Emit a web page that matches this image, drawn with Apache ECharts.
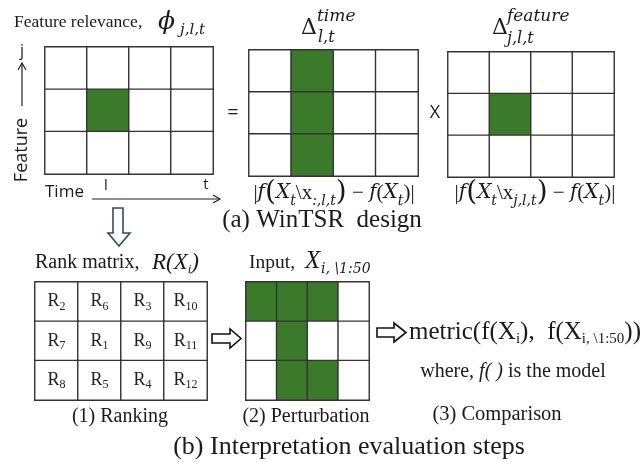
<!DOCTYPE html>
<html><head><meta charset="utf-8">
<script src="https://cdn.jsdelivr.net/npm/echarts@6/dist/echarts.min.js"></script>
<style>html,body{margin:0;padding:0;background:#fff}#c{width:642px;height:462px}</style>
</head><body><div id="c"></div>
<script>
// ---- data ----
const colCats = ['c1', 'c2', 'c3', 'c4'];
const rowCats = ['r1', 'r2', 'r3'];
const phiMatrix = [[0,0,0,0],[0,1,0,0],[0,0,0,0]];
const deltaTimeMatrix = [[0,1,0,0],[0,1,0,0],[0,1,0,0]];
const deltaFeatureMatrix = [[0,0,0,0],[0,1,0,0],[0,0,0,0]];
const rankMatrix = [[2,6,3,10],[7,1,9,11],[8,5,4,12]];
const perturbMatrix = [[1,1,1,0],[0,1,0,0],[0,1,1,0]];

const GREEN = '#3B7A2B';
const LINE = '#333';
const SERIF = '"Liberation Serif", "Times New Roman", serif';
const MATH = '"DejaVu Serif", "Liberation Serif", serif';
const SANS = '"Open Sans", "Noto Sans", sans-serif';

function cells(m) {
  const out = [];
  m.forEach((row, r) => row.forEach((v, c) => out.push([c, r, v])));
  return out;
}

const grids = [
  {left: 45, top: 47, width: 168, height: 127},
  {left: 249, top: 50, width: 169, height: 126},
  {left: 448, top: 52, width: 166, height: 125},
  {left: 35, top: 282, width: 172, height: 118},
  {left: 246, top: 282, width: 123, height: 118}
];
const matrices = [phiMatrix, deltaTimeMatrix, deltaFeatureMatrix, rankMatrix, perturbMatrix];

const xAxes = grids.map((g, i) => ({type: 'category', gridIndex: i, data: colCats, show: false}));
const yAxes = grids.map((g, i) => ({type: 'category', gridIndex: i, data: rowCats, inverse: true, show: false}));

const series = matrices.map((m, i) => {
  const s = {
    type: 'heatmap', xAxisIndex: i, yAxisIndex: i, data: cells(m), silent: true,
    itemStyle: {borderColor: LINE, borderWidth: 1.4},
    emphasis: {disabled: true}
  };
  if (i === 3) {
    s.itemStyle.color = '#fff';
    s.label = {
      show: true,
      formatter: p => '{r|R}{s|' + p.value[2] + '}',
      rich: {
        r: {fontFamily: SERIF, fontSize: 18, color: '#222', lineHeight: 22},
        s: {fontFamily: SERIF, fontSize: 12, color: '#222', lineHeight: 13, verticalAlign: 'bottom'}
      }
    };
  }
  return s;
});

function T(x, y, text, font, extra) {
  return Object.assign({type: 'text', x: x, y: y, silent: true,
    style: Object.assign({text: text, font: font, fill: '#1a1a1a', textAlign: 'left', textVerticalAlign: 'middle'}, (extra && extra.style) || {})},
    extra && extra.el || {});
}
function R(x, y, text, rich, align) {
  return {type: 'text', x: x, y: y, silent: true,
    style: {text: text, rich: rich, fill: '#1a1a1a', textAlign: align || 'left', textVerticalAlign: 'middle'}};
}

const fRich = {
  n: {fontFamily: SERIF, fontSize: 21, lineHeight: 30, color: '#1a1a1a'},
  i: {fontFamily: MATH, fontStyle: 'italic', fontSize: 20, lineHeight: 30, color: '#1a1a1a'},
  p: {fontFamily: MATH, fontSize: 28, lineHeight: 30, color: '#1a1a1a'},
  s: {fontFamily: MATH, fontStyle: 'italic', fontSize: 14, lineHeight: 17, verticalAlign: 'bottom', color: '#1a1a1a'}
};

const graphics = [
  // top-left title
  T(14, 22, 'Feature relevance,', '17.5px ' + SERIF),
  T(158, 22, 'ϕ', 'italic 25px ' + MATH),
  T(180, 30, 'j,l,t', 'italic 15px ' + MATH),
  // feature axis
  T(22, 51, 'j', '16px ' + SANS, {style: {textAlign: 'center'}}),
  {type: 'polyline', silent: true, shape: {points: [[22, 106], [22, 63]]}, style: {stroke: '#222', lineWidth: 1.2, fill: null}},
  {type: 'polyline', silent: true, shape: {points: [[18, 70], [22, 63], [26, 70]]}, style: {stroke: '#222', lineWidth: 1.2, fill: null}},
  T(22, 150, 'Feature', '18px ' + SANS, {style: {textAlign: 'center'}, el: {rotation: Math.PI / 2}}),
  // time axis
  T(45, 192, 'Time', '17px ' + SANS),
  T(106, 186, 'l', '15px ' + SANS, {style: {textAlign: 'center'}}),
  T(206, 185, 't', '15px ' + SANS, {style: {textAlign: 'center'}}),
  {type: 'polyline', silent: true, shape: {points: [[92, 199], [220, 199]]}, style: {stroke: '#222', lineWidth: 1.2, fill: null}},
  {type: 'polyline', silent: true, shape: {points: [[213, 195], [220, 199], [213, 203]]}, style: {stroke: '#222', lineWidth: 1.2, fill: null}},
  // operators
  T(233, 113, '=', '20px ' + SANS, {style: {textAlign: 'center'}}),
  T(435, 113, 'X', '18px ' + SANS, {style: {textAlign: 'center'}}),
  // delta headers
  T(309, 28, 'Δ', '22px ' + MATH, {style: {textAlign: 'center'}}),
  T(317, 17, 'time', 'italic 17px ' + MATH),
  T(318, 38, 'l,t', 'italic 16px ' + MATH),
  T(500, 28, 'Δ', '22px ' + MATH, {style: {textAlign: 'center'}}),
  T(507, 17, 'feature', 'italic 17px ' + MATH),
  T(507, 39, 'j,l,t', 'italic 16px ' + MATH),
  // formulas
  R(334, 193, '{n||}{i|f}{p|(}{i|X}{s|t}{n|\\x}{s|:,l,t}{p|)}{n| − }{i|f}{n|(}{i|X}{s|t}{n|)|}', fRich, 'center'),
  R(535, 193, '{n||}{i|f}{p|(}{i|X}{s|t}{n|\\x}{s|j,l,t}{p|)}{n| − }{i|f}{n|(}{i|X}{s|t}{n|)|}', fRich, 'center'),
  T(322, 220, '(a) WinTSR  design', '25px ' + SERIF, {style: {textAlign: 'center'}}),
  // down block arrow
  {type: 'polygon', silent: true,
    shape: {points: [[113, 208], [123, 208], [123, 233], [130, 233], [119, 246], [108, 233], [113, 233]]},
    style: {stroke: '#2B4F5C', lineWidth: 1.6, fill: '#fff'}},
  // bottom section headers
  T(35, 263, 'Rank matrix,', '20px ' + SERIF),
  R(152, 263, '{a|R(X}{s|i}{a|)}', {
    a: {fontFamily: SERIF, fontStyle: 'italic', fontSize: 23, lineHeight: 26, color: '#1a1a1a'},
    s: {fontFamily: SERIF, fontStyle: 'italic', fontSize: 13, lineHeight: 15, verticalAlign: 'bottom', color: '#1a1a1a'}
  }),
  T(249, 263, 'Input,', '19.5px ' + SERIF),
  T(305, 261, 'X', 'italic 25px ' + SERIF),
  T(321, 269, 'i, \\1:50', 'italic 14px ' + MATH),
  // right block arrows
  {type: 'polygon', silent: true,
    shape: {points: [[212, 334], [230, 334], [230, 329], [241, 338.5], [230, 348], [230, 343], [212, 343]]},
    style: {stroke: '#111', lineWidth: 1.6, fill: '#fff'}},
  {type: 'polygon', silent: true,
    shape: {points: [[377, 328], [394, 328], [394, 323], [406, 332.5], [394, 342], [394, 337], [377, 337]]},
    style: {stroke: '#111', lineWidth: 1.6, fill: '#fff'}},
  R(409, 332, '{a|metric(f(X}{s|i}{a|),  f(X}{s|i, \\1:50}{a|))}', {
    a: {fontFamily: SERIF, fontSize: 25, lineHeight: 30, color: '#1a1a1a'},
    s: {fontFamily: SERIF, fontSize: 15, lineHeight: 18, verticalAlign: 'bottom', color: '#1a1a1a'}
  }),
  R(513, 372, '{a|where, }{i|f( )}{a| is the model}', {
    a: {fontFamily: SERIF, fontSize: 20, color: '#1a1a1a'},
    i: {fontFamily: SERIF, fontStyle: 'italic', fontSize: 20, color: '#1a1a1a'}
  }, 'center'),
  T(120, 417, '(1) Ranking', '20px ' + SERIF, {style: {textAlign: 'center'}}),
  T(306, 417, '(2) Perturbation', '20px ' + SERIF, {style: {textAlign: 'center'}}),
  T(497, 415, '(3) Comparison', '20.5px ' + SERIF, {style: {textAlign: 'center'}}),
  T(349, 447, '(b) Interpretation evaluation steps', '26px ' + SERIF, {style: {textAlign: 'center'}})
];

const chart = echarts.init(document.getElementById('c'), null, {renderer: 'canvas'});
chart.setOption({
  backgroundColor: '#fff',
  animation: false,
  grid: grids,
  xAxis: xAxes,
  yAxis: yAxes,
  visualMap: {
    type: 'piecewise', show: false, seriesIndex: [0, 1, 2, 4], dimension: 2,
    pieces: [{value: 0, color: '#fff'}, {value: 1, color: GREEN}]
  },
  series: series,
  graphic: graphics
});
</script></body></html>
